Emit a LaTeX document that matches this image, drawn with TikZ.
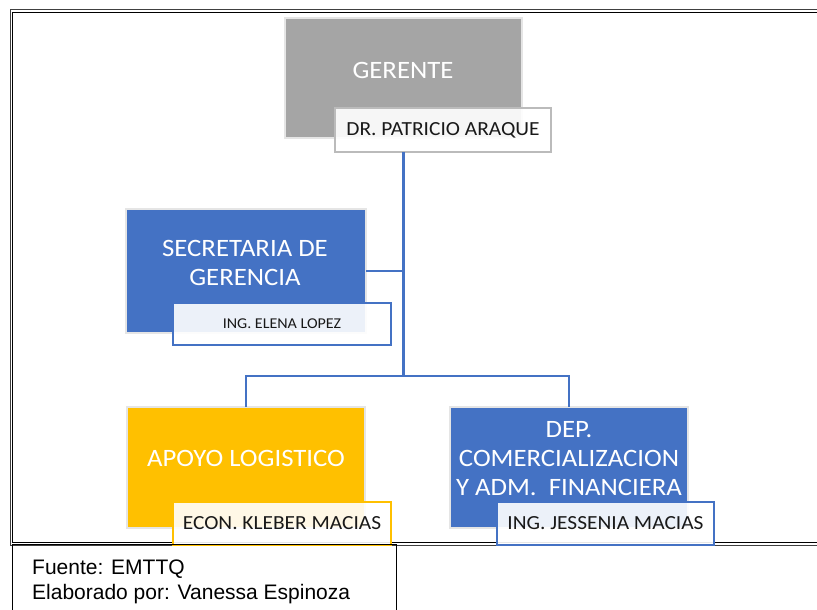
\documentclass[tikz,border=0pt]{standalone}
\usepackage{fontspec}
\setmainfont{Carlito}[FakeStretch=1.07]
\newfontfamily\arialf{Liberation Sans}
\definecolor{blueA}{HTML}{4472C4}
\definecolor{goldA}{HTML}{FFC000}
\definecolor{grayA}{HTML}{A5A5A5}
\tikzset{
  unitbox/.style={rectangle, inner sep=0pt, outer sep=0pt, anchor=north west},
  deptbox/.style={unitbox, draw=black!10, line width=1.2pt},
  nametag/.style={unitbox, fill=white, fill opacity=0.9, text opacity=1, line width=1.6pt,
    font=\fontsize{20}{24}\selectfont, text=black!90},
  headtext/.style={text=white, align=center, font=\fontsize{25}{29}\selectfont, inner sep=0pt},
  conn/.style={draw=blueA, line width=2.4pt},
  frameout/.style={draw=black!75, line width=1pt},
  framein/.style={draw=black, line width=1.2pt},
}
\begin{document}
\begin{tikzpicture}[x=1pt,y=-1pt]
\useasboundingbox (0,0) rectangle (817,610);
% double frame
\draw[frameout] (830,10) -- (10,10) -- (10,545.7) -- (830,545.7);
\draw[framein] (830,12.7) -- (12.7,12.7) -- (12.7,542.7) -- (830,542.7);
% boxes
\node[deptbox, fill=grayA, minimum width=237pt, minimum height=120pt] (ger) at (285,18) {};
\node[deptbox, fill=blueA, minimum width=240pt, minimum height=124pt] (sec) at (126,209) {};
\node[deptbox, fill=goldA, minimum width=238pt, minimum height=121pt] (apo) at (127,407) {};
\node[deptbox, fill=blueA, minimum width=238pt, minimum height=121pt] (dep) at (450,407) {};
% box titles
\node[headtext] (gert) at (403,70) {GERENTE};
\node[headtext] (sect) at (245,262.5) {SECRETARIA DE\\GERENCIA};
\node[headtext] (apot) at (246,458.5) {APOYO LOGISTICO};
\node[headtext] (dept) at (569,459) {DEP.\\COMERCIALIZACION\\Y ADM.\ \ FINANCIERA};
% name tags
\node[nametag, draw=grayA!75, minimum width=216pt, minimum height=44pt] (pat) at (335,108) {DR. PATRICIO ARAQUE};
\node[nametag, draw=blueA, minimum width=218pt, minimum height=42pt, font=\fontsize{15}{18}\selectfont] (ele) at (173,303) {ING. ELENA LOPEZ};
\node[nametag, draw=goldA, minimum width=218pt, minimum height=43pt] (eco) at (173,502) {ECON. KLEBER MACIAS};
\node[nametag, draw=blueA, minimum width=217pt, minimum height=43pt] (jes) at (497,502) {ING. JESSENIA MACIAS};
% connectors
\coordinate (bus) at (403.5,376);
\draw[conn] (ger.south |- pat.south) -- (bus);
\draw[conn] (sec.east) -- (sec.east -| bus);
\draw[conn] (apo.north) -- (apo.north |- bus) -- (dep.north |- bus) -- (dep.north);
% footer
\node[unitbox, draw=black, line width=1pt, minimum width=384pt, minimum height=80pt] (foot) at (12,544) {};
\node[anchor=base west, inner sep=0pt, font=\arialf\fontsize{21}{25}\selectfont] (src) at (32,574.3) {Fuente: EMTTQ};
\node[anchor=base west, inner sep=0pt, font=\arialf\fontsize{21}{25}\selectfont] (auth) at (32,599) {Elaborado por: Vanessa Espinoza};
\end{tikzpicture}
\end{document}
